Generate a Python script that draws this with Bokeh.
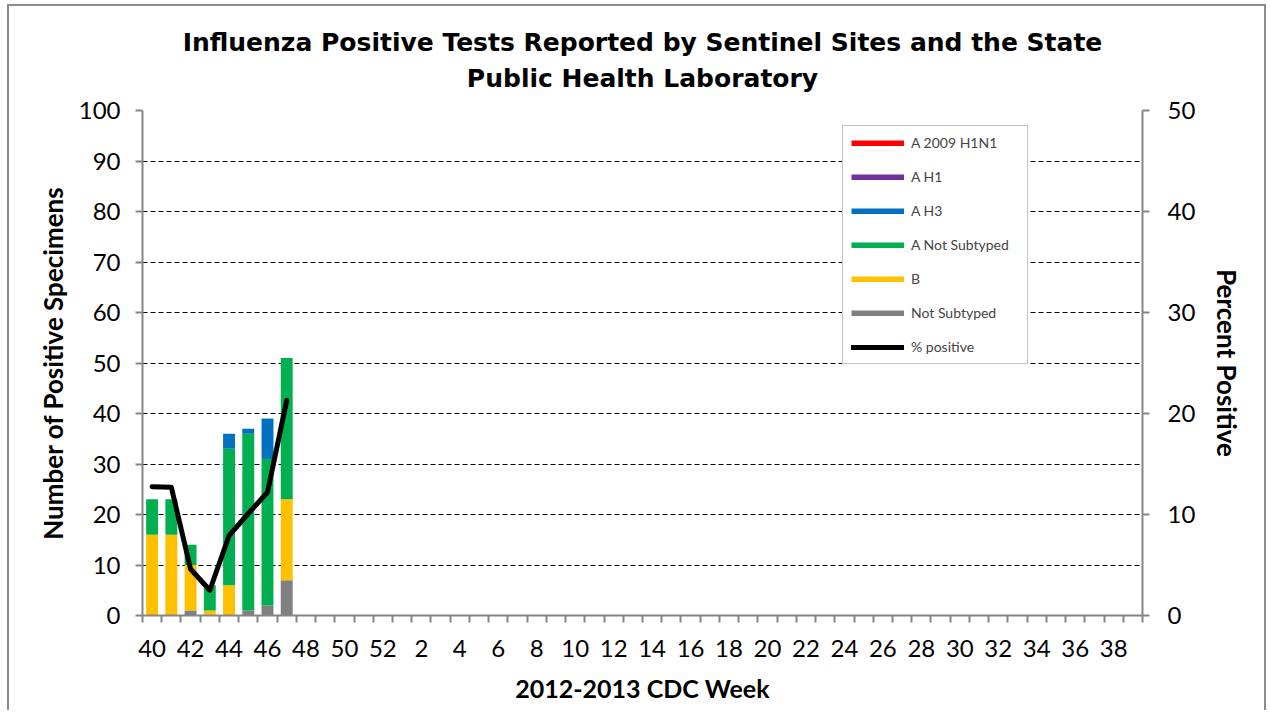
from bokeh.plotting import figure
from bokeh.models import (ColumnDataSource, Range1d, LinearAxis, FixedTicker,
                          Legend, LegendItem, Title)
from bokeh.embed import file_html
from bokeh.resources import INLINE

# ---- data ----
weeks = list(range(40, 53)) + list(range(1, 40))
week_labels = [str(w) for w in weeks]
tick_weeks = weeks[::2]
reported_weeks = [40, 41, 42, 43, 44, 45, 46, 47]
a_2009_h1n1 = [0, 0, 0, 0, 0, 0, 0, 0]
a_h1 = [0, 0, 0, 0, 0, 0, 0, 0]
a_h3 = [0, 0, 0, 0, 3, 1, 8, 0]
a_not_subtyped = [7, 7, 4, 5, 27, 35, 29, 28]
b_flu = [16, 16, 9, 1, 6, 0, 0, 16]
not_subtyped = [0, 0, 1, 0, 0, 1, 2, 7]
pct_positive = [12.75, 12.7, 4.6, 2.5, 7.9, 10.1, 12.2, 21.3]

series_names = ["Not Subtyped", "B", "A Not Subtyped", "A H3", "A H1", "A 2009 H1N1"]
series_cols = ["not_subtyped", "b", "a_ns", "a_h3", "a_h1", "a_2009"]
series_colors = ["#808080", "#FFC000", "#00B050", "#0070C0", "#7030A0", "#FF0000"]

xs = [weeks.index(w) for w in reported_weeks]
src = ColumnDataSource(dict(x=xs, not_subtyped=not_subtyped, b=b_flu, a_ns=a_not_subtyped,
                            a_h3=a_h3, a_h1=a_h1, a_2009=a_2009_h1n1, pct=pct_positive))

TICK_FONT = "Lato"
AX_COLOR = "#868686"

p = figure(width=1259, height=706, output_backend="svg", toolbar_location=None,
           x_range=Range1d(-0.5, len(weeks) - 0.5), y_range=Range1d(0, 100),
           title=None, min_border_left=133, min_border_right=126,
           min_border_top=104, min_border_bottom=97)
p.outline_line_color = None
p.styles = {"border-left": "2px solid #8c8c8c", "border-top": "2px solid #8c8c8c",
            "border-right": "2px solid #8c8c8c", "margin-left": "7px", "margin-top": "4px"}

p.extra_y_ranges = {"pct": Range1d(0, 50)}

# bars
p.vbar_stack(series_cols, x="x", width=0.62, color=series_colors, source=src, line_color=None)
# line
pct_line = p.line("x", "pct", source=src, y_range_name="pct", line_color="black",
                  line_width=5, line_join="round", line_cap="round")

# x axis
xa = p.xaxis[0]
xa.ticker = FixedTicker(ticks=[weeks.index(w) for w in tick_weeks],
                        minor_ticks=[i - 0.5 for i in range(len(weeks) + 1)])
xa.major_label_overrides = {weeks.index(w): str(w) for w in tick_weeks}
xa.major_tick_line_color = None
xa.minor_tick_line_color = AX_COLOR
xa.minor_tick_line_width = 2
xa.minor_tick_out = 7
xa.minor_tick_in = 0
xa.axis_line_color = AX_COLOR
xa.axis_line_width = 2
xa.major_label_text_font = TICK_FONT
xa.major_label_text_font_size = "24px"
xa.major_label_text_color = "black"
xa.major_label_standoff = 17
xa.axis_label = "2012-2013 CDC Week"
xa.axis_label_text_font = "Lato"
xa.axis_label_text_font_style = "bold"
xa.axis_label_text_font_size = "25px"
xa.axis_label_text_color = "black"
xa.axis_label_standoff = 13

# left axis
ya = p.yaxis[0]
ya.ticker = FixedTicker(ticks=list(range(0, 101, 10)))
ya.minor_tick_line_color = None
ya.major_tick_line_color = AX_COLOR
ya.major_tick_line_width = 2
ya.major_tick_out = 7
ya.major_tick_in = 0
ya.axis_line_color = AX_COLOR
ya.axis_line_width = 2
ya.major_label_text_font = TICK_FONT
ya.major_label_text_font_size = "24px"
ya.major_label_text_color = "black"
ya.major_label_standoff = 15
ya.axis_label = "Number of Positive Specimens"
ya.axis_label_text_font = "Lato"
ya.axis_label_text_font_style = "bold"
ya.axis_label_text_font_size = "26px"
ya.axis_label_text_color = "black"
ya.axis_label_standoff = 7

# right axis
ra = LinearAxis(y_range_name="pct", ticker=FixedTicker(ticks=list(range(0, 51, 10))))
ra.minor_tick_line_color = None
ra.major_tick_line_color = AX_COLOR
ra.major_tick_line_width = 2
ra.major_tick_out = 7
ra.major_tick_in = 0
ra.axis_line_color = AX_COLOR
ra.axis_line_width = 2
ra.major_label_text_font = TICK_FONT
ra.major_label_text_font_size = "24px"
ra.major_label_text_color = "black"
ra.major_label_standoff = 18
ra.axis_label = "Percent Positive"
ra.axis_label_text_font = "Lato"
ra.axis_label_text_font_style = "bold"
ra.axis_label_text_font_size = "26px"
ra.axis_label_text_color = "black"
ra.axis_label_standoff = 13
p.add_layout(ra, "right")

# grid
p.xgrid.grid_line_color = None
p.ygrid.ticker = FixedTicker(ticks=list(range(10, 101, 10)))
p.ygrid.grid_line_color = "black"
p.ygrid.grid_line_dash = "5 3"
p.ygrid.grid_line_width = 1

# titles (second line first so it sits closer to the frame)
p.add_layout(Title(text="Public Health Laboratory", align="center", text_font="DejaVu Sans",
                   text_font_style="bold", text_font_size="25px", text_color="black",
                   standoff=35), "above")
p.add_layout(Title(text="Influenza Positive Tests Reported by Sentinel Sites and the State",
                   align="center", text_font="DejaVu Sans", text_font_style="bold",
                   text_font_size="25px", text_color="black", standoff=-24), "above")

# legend with line swatches
nan = float("nan")
items = []
legend_order = list(zip(series_names, series_colors))[::-1]
for name, col in legend_order:
    r = p.line(x=[nan, nan], y=[nan, nan], line_color=col, line_width=6)
    items.append(LegendItem(label=name, renderers=[r]))
items.append(LegendItem(label="% positive", renderers=[pct_line]))

legend = Legend(items=items, location=(700, 251), orientation="vertical",
                glyph_width=53, glyph_height=6, label_height=6, label_width=108,
                spacing=17, padding=8, label_standoff=7,
                label_text_font="Lato", label_text_font_size="14px",
                border_line_color="#888888", border_line_width=1.5,
                background_fill_color="white", background_fill_alpha=1)
p.add_layout(legend, "center")

open("out.html", "w").write(file_html(p, INLINE))
